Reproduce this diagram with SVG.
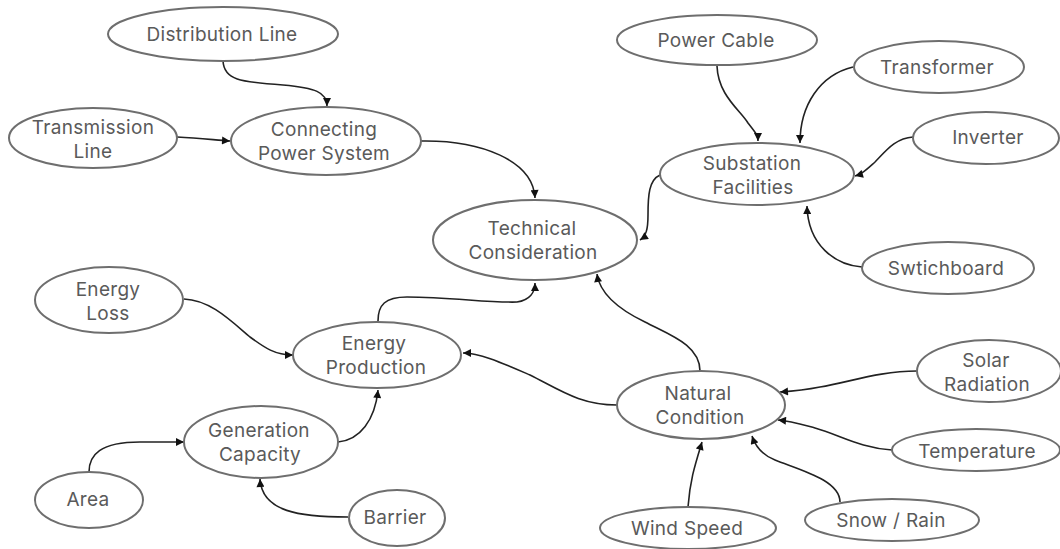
<svg xmlns="http://www.w3.org/2000/svg" width="1060" height="549" viewBox="0 0 1060 549">
<style>
  .n ellipse { fill: #ffffff; stroke: #6e6e6e; stroke-width: 2; }
  .n text { font-family: Inter, "Noto Sans", sans-serif; font-size: 19px; letter-spacing: 0.3px; fill: #5a5a5a; text-anchor: middle; dominant-baseline: central; }
  .c path { fill: none; stroke: #222222; stroke-width: 1.6; marker-end: url(#arr); }
</style>
<defs>
  <marker id="arr" viewBox="0 0 10 10" refX="10" refY="5" markerWidth="9" markerHeight="8" markerUnits="userSpaceOnUse" orient="auto">
    <path d="M0,0 L10,5 L0,10 z" fill="#111111"/>
  </marker>
</defs>
<rect width="1060" height="549" fill="#ffffff"/>
<g id="connectors" class="c">
  <path d="M223,61 C224,80 240,82 283,85 C315,88 327,92 327,106"/>
  <path d="M177,137 C200,138 215,140 230,141"/>
  <path d="M421,141 C480,140 533,160 535,198"/>
  <path d="M660,175 C649,180 648,195 648,215 C648,230 646,236 640,240"/>
  <path d="M717,66 C718,95 740,110 748,123 C755,132 758,135 758,141"/>
  <path d="M853,67 C820,75 800,105 800,143"/>
  <path d="M913,137 C895,138 885,152 875,162 C866,170 862,174 855,176"/>
  <path d="M862,267 C835,265 808,245 807,206"/>
  <path d="M378,321 C378,305 385,297 407,297 C450,297 490,303 517,302 C530,300 535,292 535,283"/>
  <path d="M700,371 C700,345 670,335 645,322 C620,310 600,295 597,274"/>
  <path d="M617,405 C580,405 560,390 530,375 C500,362 480,353 463,353"/>
  <path d="M184,299 C210,300 230,320 250,337 C265,348 275,355 293,355"/>
  <path d="M338,442 C360,440 375,420 378,390"/>
  <path d="M89,472 C89,455 100,442 140,442 L184,442"/>
  <path d="M348,517 C300,517 262,512 260,479"/>
  <path d="M917,371 C880,371 850,382 820,387 C805,390 795,391 780,392"/>
  <path d="M892,450 C860,448 840,435 815,428 C800,424 790,421 778,420"/>
  <path d="M688,507 C690,480 695,465 702,442"/>
  <path d="M840,502 C840,480 800,470 775,460 C762,455 755,445 752,436"/>
</g>
<g id="distribution-line" class="n"><ellipse cx="223" cy="34" rx="115" ry="27"/><text x="222" y="34">Distribution Line</text></g>
<g id="transmission-line" class="n"><ellipse cx="93" cy="138" rx="84" ry="30"/><text x="93" y="127">Transmission</text><text x="93" y="151">Line</text></g>
<g id="connecting-power-system" class="n"><ellipse cx="326" cy="141" rx="95" ry="34"/><text x="324" y="129">Connecting</text><text x="324" y="153">Power System</text></g>
<g id="technical-consideration" class="n"><ellipse cx="535" cy="240" rx="102" ry="40"/><text x="532" y="228">Technical</text><text x="533" y="252">Consideration</text></g>
<g id="power-cable" class="n"><ellipse cx="717" cy="40" rx="100" ry="25"/><text x="716" y="40">Power Cable</text></g>
<g id="transformer" class="n"><ellipse cx="939" cy="67" rx="85" ry="26"/><text x="937" y="67">Transformer</text></g>
<g id="inverter" class="n"><ellipse cx="986" cy="138" rx="73" ry="26"/><text x="988" y="137">Inverter</text></g>
<g id="substation-facilities" class="n"><ellipse cx="757" cy="174" rx="97" ry="31"/><text x="752" y="163">Substation</text><text x="753" y="187">Facilities</text></g>
<g id="swtichboard" class="n"><ellipse cx="948" cy="268" rx="86" ry="26"/><text x="946" y="268">Swtichboard</text></g>
<g id="energy-loss" class="n"><ellipse cx="109" cy="300" rx="74" ry="33"/><text x="108" y="289">Energy</text><text x="108" y="313">Loss</text></g>
<g id="energy-production" class="n"><ellipse cx="377" cy="355" rx="84" ry="33"/><text x="374" y="343">Energy</text><text x="376" y="367">Production</text></g>
<g id="generation-capacity" class="n"><ellipse cx="261" cy="442" rx="77" ry="36"/><text x="259" y="430">Generation</text><text x="260" y="454">Capacity</text></g>
<g id="area" class="n"><ellipse cx="89" cy="500" rx="54" ry="28"/><text x="88" y="499">Area</text></g>
<g id="barrier" class="n"><ellipse cx="397" cy="518" rx="48" ry="28"/><text x="395" y="517">Barrier</text></g>
<g id="natural-condition" class="n"><ellipse cx="701" cy="405" rx="84" ry="34"/><text x="698" y="393">Natural</text><text x="700" y="417">Condition</text></g>
<g id="solar-radiation" class="n"><ellipse cx="989" cy="371" rx="72" ry="31"/><text x="986" y="360">Solar</text><text x="987" y="384">Radiation</text></g>
<g id="temperature" class="n"><ellipse cx="976" cy="450" rx="84" ry="21"/><text x="977" y="451">Temperature</text></g>
<g id="wind-speed" class="n"><ellipse cx="688" cy="528" rx="88" ry="21"/><text x="687" y="528">Wind Speed</text></g>
<g id="snow-rain" class="n"><ellipse cx="892" cy="520" rx="87" ry="21"/><text x="891" y="520">Snow / Rain</text></g>
</svg>
